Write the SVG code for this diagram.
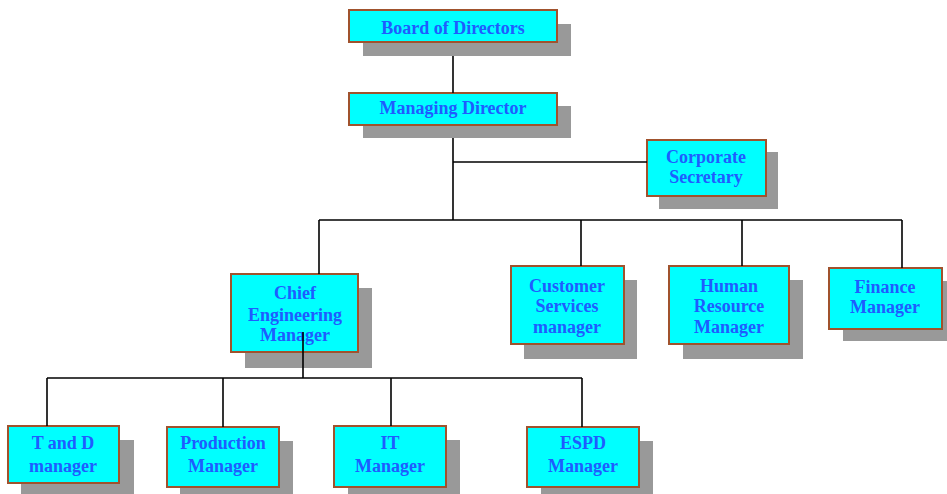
<svg xmlns="http://www.w3.org/2000/svg" width="947" height="494" viewBox="0 0 947 494">
  <style>
    .shadow { fill: #999999; }
    .box { fill: #00ffff; stroke: #a0522d; stroke-width: 2; }
    .label { font-family: "Liberation Serif", "Times New Roman", serif; font-weight: bold; font-size: 18px; fill: #1f5cff; text-anchor: middle; }
    .wire { stroke: #000000; stroke-width: 1.6; fill: none; }
  </style>
  <rect width="947" height="494" fill="#ffffff"/>

  <g id="board">
    <rect class="shadow" x="363" y="24" width="208" height="32"/>
    <rect class="box" x="349" y="10" width="208" height="32"/>
    <text class="label" x="453" y="34">Board of Directors</text>
  </g>

  <g id="managing-director">
    <rect class="shadow" x="363" y="106" width="208" height="32"/>
    <rect class="box" x="349" y="93" width="208" height="32"/>
    <text class="label" x="453" y="114">Managing Director</text>
  </g>

  <g id="corporate-secretary">
    <rect class="shadow" x="659" y="152" width="119" height="57"/>
    <rect class="box" x="647" y="140" width="119" height="56"/>
    <text class="label" x="706" y="163">Corporate</text>
    <text class="label" x="706" y="183">Secretary</text>
  </g>

  <g id="chief-engineering">
    <rect class="shadow" x="245" y="288" width="127" height="80"/>
    <rect class="box" x="231" y="274" width="127" height="78"/>
    <text class="label" x="295" y="299">Chief</text>
    <text class="label" x="295" y="321">Engineering</text>
    <text class="label" x="295" y="341">Manager</text>
  </g>

  <g id="customer-services">
    <rect class="shadow" x="524" y="280" width="113" height="79"/>
    <rect class="box" x="511" y="266" width="113" height="78"/>
    <text class="label" x="567" y="292">Customer</text>
    <text class="label" x="567" y="312">Services</text>
    <text class="label" x="567" y="333">manager</text>
  </g>

  <g id="human-resource">
    <rect class="shadow" x="683" y="280" width="120" height="79"/>
    <rect class="box" x="669" y="266" width="120" height="78"/>
    <text class="label" x="729" y="292">Human</text>
    <text class="label" x="729" y="312">Resource</text>
    <text class="label" x="729" y="333">Manager</text>
  </g>

  <g id="finance">
    <rect class="shadow" x="843" y="281" width="113" height="60"/>
    <rect class="box" x="829" y="268" width="113" height="61"/>
    <text class="label" x="885" y="293">Finance</text>
    <text class="label" x="885" y="313">Manager</text>
  </g>

  <g id="t-and-d">
    <rect class="shadow" x="21" y="440" width="113" height="60"/>
    <rect class="box" x="8" y="426" width="111" height="57"/>
    <text class="label" x="63" y="449">T and D</text>
    <text class="label" x="63" y="472">manager</text>
  </g>

  <g id="production">
    <rect class="shadow" x="180" y="441" width="113" height="60"/>
    <rect class="box" x="167" y="427" width="112" height="60"/>
    <text class="label" x="223" y="449">Production</text>
    <text class="label" x="223" y="472">Manager</text>
  </g>

  <g id="it">
    <rect class="shadow" x="348" y="440" width="112" height="60"/>
    <rect class="box" x="334" y="426" width="112" height="61"/>
    <text class="label" x="390" y="449">IT</text>
    <text class="label" x="390" y="472">Manager</text>
  </g>

  <g id="espd">
    <rect class="shadow" x="541" y="441" width="112" height="60"/>
    <rect class="box" x="527" y="427" width="112" height="60"/>
    <text class="label" x="583" y="449">ESPD</text>
    <text class="label" x="583" y="472">Manager</text>
  </g>

  <!-- reporting lines -->
  <g id="connectors">
    <path class="wire" d="M453,56 V93"/>
    <path class="wire" d="M453,138 V220"/>
    <path class="wire" d="M453,162 H647"/>
    <path class="wire" d="M319,220 H902"/>
    <path class="wire" d="M319,220 V274"/>
    <path class="wire" d="M581,220 V266"/>
    <path class="wire" d="M742,220 V266"/>
    <path class="wire" d="M902,220 V268"/>
    <path class="wire" d="M303,332 V378"/>
    <path class="wire" d="M47,378 H582"/>
    <path class="wire" d="M47,378 V426"/>
    <path class="wire" d="M223,378 V427"/>
    <path class="wire" d="M391,378 V426"/>
    <path class="wire" d="M582,378 V427"/>
  </g>
</svg>
